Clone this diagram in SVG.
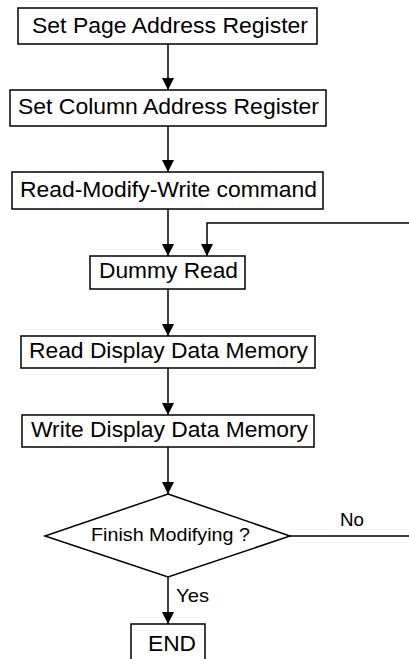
<svg xmlns="http://www.w3.org/2000/svg" width="409" height="659" viewBox="0 0 409 659">
<defs>
<marker id="ah" markerWidth="13" markerHeight="12" refX="13" refY="6.5" orient="auto" markerUnits="userSpaceOnUse" viewBox="0 0 13 13">
<path d="M0,0 L13,6.5 L0,13 Z" fill="#000"/>
</marker>
<style>
.box{fill:#fff;stroke:#000;stroke-width:1.5}
.t{font-family:"Liberation Sans",Arial,sans-serif;font-size:21.5px;fill:#000}
.s{font-family:"Liberation Sans",Arial,sans-serif;font-size:19px;fill:#000}
.c{fill:none;stroke:#000;stroke-width:1.5}
</style>
</defs>
<rect width="409" height="659" fill="#fff"/>
<g id="connectors">
<line class="c" x1="168" y1="44" x2="168" y2="90" marker-end="url(#ah)"/>
<line class="c" x1="168" y1="126" x2="168" y2="172" marker-end="url(#ah)"/>
<line class="c" x1="168" y1="209" x2="168" y2="256" marker-end="url(#ah)"/>
<polyline class="c" points="409,223 207,223 207,256" marker-end="url(#ah)"/>
<line class="c" x1="168" y1="289" x2="168" y2="336" marker-end="url(#ah)"/>
<line class="c" x1="168" y1="368" x2="168" y2="415" marker-end="url(#ah)"/>
<line class="c" x1="168" y1="447" x2="168" y2="494" marker-end="url(#ah)"/>
<line class="c" x1="168" y1="577" x2="168" y2="624" marker-end="url(#ah)"/>
<line class="c" x1="290" y1="536" x2="409" y2="536"/>
<text class="s" x="340" y="526" textLength="24" lengthAdjust="spacingAndGlyphs">No</text>
<text class="s" x="176" y="602" textLength="33" lengthAdjust="spacingAndGlyphs">Yes</text>
</g>
<g id="n1">
<rect class="box" x="18" y="8" width="299" height="36"/>
<text class="t" x="32" y="33" textLength="276" lengthAdjust="spacingAndGlyphs">Set Page Address Register</text>
</g>
<g id="n2">
<rect class="box" x="10" y="90" width="316" height="36"/>
<text class="t" x="18" y="114" textLength="301" lengthAdjust="spacingAndGlyphs">Set Column Address Register</text>
</g>
<g id="n3">
<rect class="box" x="12" y="172" width="311" height="37"/>
<text class="t" x="20" y="197" textLength="297" lengthAdjust="spacingAndGlyphs">Read-Modify-Write command</text>
</g>
<g id="n4">
<rect class="box" x="90" y="256" width="155" height="33"/>
<text class="t" x="99" y="278" textLength="139" lengthAdjust="spacingAndGlyphs">Dummy Read</text>
</g>
<g id="n5">
<rect class="box" x="21" y="336" width="294" height="32"/>
<text class="t" x="29" y="358" textLength="279" lengthAdjust="spacingAndGlyphs">Read Display Data Memory</text>
</g>
<g id="n6">
<rect class="box" x="22" y="415" width="292" height="32"/>
<text class="t" x="31" y="437" textLength="277" lengthAdjust="spacingAndGlyphs">Write Display Data Memory</text>
</g>
<g id="n7">
<polygon class="box" points="168,494 290,536 168,577 45,536"/>
<text class="s" x="91" y="541" textLength="159" lengthAdjust="spacingAndGlyphs">Finish Modifying ?</text>
</g>
<g id="n8">
<rect class="box" x="131" y="624" width="74" height="45"/>
<text class="t" x="148" y="651" textLength="48" lengthAdjust="spacingAndGlyphs">END</text>
</g>
</svg>
